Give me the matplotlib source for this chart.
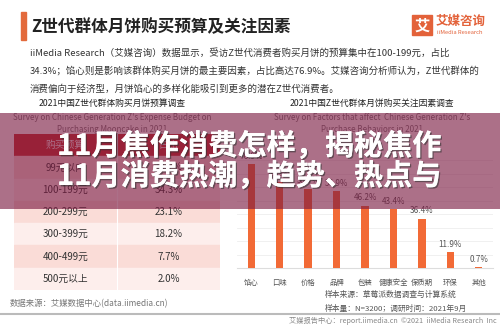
import numpy as np
import matplotlib.pyplot as plt
import matplotlib.patheffects as pe

plt.rcParams['font.family'] = ['Noto Sans CJK SC', 'DejaVu Sans']

# left table data
budget_ranges = ['99元以内', '100-199元', '200-299元', '300-399元', '400-499元', '500元以上']
budget_share = [14.7, 34.3, 23.1, 18.2, 7.7, 2.0]

# right bar chart data
factors = ['馅心', '口味', '价格', '品牌', '包装', '健康安全', '保质期', '环保', '其他']
factor_share = [76.9, 63.9, 58.7, 56.9, 46.2, 43.4, 36.4, 11.9, 0.7]

W, H = 500, 325
fig = plt.figure(figsize=(5, 3.25), dpi=100)
fig.patch.set_facecolor('white')

def px_axes(x0, y0, x1, y1, **kw):
    # axes given in pixel box (top-left origin)
    return fig.add_axes([x0 / W, 1 - y1 / H, (x1 - x0) / W, (y1 - y0) / H], **kw)

bg = px_axes(0, 0, W, H)
bg.set_xlim(0, W)
bg.set_ylim(H, 0)
bg.axis('off')

# header
bg.add_patch(plt.Rectangle((21, 12), 5, 28, color='#e36a3c'))
bg.text(31, 27, 'Z世代群体月饼购买预算及关注因素', fontsize=12, fontweight='bold',
        color='#222222', va='center')
bg.add_patch(plt.Rectangle((412, 15), 20, 20, color='#e3623a'))
bg.text(422, 25.5, '艾', fontsize=11, fontweight='bold', color='white', ha='center', va='center')
bg.text(436, 21, '艾媒咨询', fontsize=9, fontweight='bold', color='#e3623a', va='center')
bg.text(437, 32, 'iiMedia Research', fontsize=4.2, color='#e3623a', va='center')

para = ['iiMedia Research（艾媒咨询）数据显示，受访Z世代消费者购买月饼的预算集中在100-199元，占比',
        '34.3%；馅心则是影响该群体购买月饼的最主要因素，占比高达76.9%。艾媒咨询分析师认为，Z世代群体的',
        '消费偏向于经济型，月饼馅心的多样化能吸引到更多的潜在Z世代消费者。']
for i, line in enumerate(para):
    bg.text(30, 53 + i * 18, line, fontsize=6.8, color='#333333', va='center')

# chart titles
bg.text(112, 103, '2021中国Z世代群体购买月饼预算调查', fontsize=6.3, color='#222222',
        ha='center', va='center')
bg.text(112, 117, "Survey on Chinese Generation Z's Expense Budget on", fontsize=5.8,
        color='#777777', ha='center', va='center')
bg.text(112, 130, 'Purchasing Mooncake in 2021', fontsize=5.8, color='#777777',
        ha='center', va='center')
bg.text(372, 103, '2021中国Z世代群体月饼购买关注因素调查', fontsize=6.3, color='#222222',
        ha='center', va='center')
bg.text(372, 117, "Survey on Factors that affect  Chinese Generation Z's", fontsize=5.8,
        color='#777777', ha='center', va='center')
bg.text(372, 130, 'Purchase Behaviors in 2021', fontsize=5.8, color='#777777',
        ha='center', va='center')

# sources / footer
bg.text(10, 304, '数据来源：艾媒数据中心(data.iimedia.cn)', fontsize=6, color='#777777', va='center')
bg.text(325, 295, '样本来源：草莓派数据调查与计算系统', fontsize=5.6, color='#555555', va='center')
bg.text(325, 309, '样本量：N=3200；调研时间：2021年9月', fontsize=5.6, color='#555555', va='center')
bg.axhline(313.5, color='#bbbbbb', lw=1.5)
bg.text(497, 321, '艾媒报告中心：report.iimedia.cn  ©2021  iiMedia Research  Inc', fontsize=5.2,
        color='#888888', ha='right', va='center')

# table
tab = px_axes(14, 134, 220, 290)
n = len(budget_ranges)
tab.set_xlim(0, 2)
tab.set_ylim(n + 1, 0)
tab.axis('off')
tab.axhspan(0, 1, color='#c9302c')
tab.text(0.5, 0.5, '购买预算', color='white', fontsize=7, ha='center', va='center')
tab.text(1.5, 0.5, '占比', color='white', fontsize=7, ha='center', va='center')
for i, (r, v) in enumerate(zip(budget_ranges, budget_share)):
    c = '#fadcd7' if i % 2 == 0 else '#fdeeec'
    tab.axhspan(i + 1, i + 2, color=c)
    tab.text(0.5, i + 1.5, r, fontsize=7, color='#333333', ha='center', va='center')
    tab.text(1.5, i + 1.5, f'{v:.1f}%', fontsize=7, color='#333333', ha='center', va='center')
tab.axvline(1, color='white', lw=0.8)

# bar chart
ax = px_axes(237, 146.5, 493, 268)
x = np.arange(len(factors))
ax.bar(x, factor_share, width=0.26, color='#f26a36', zorder=3)
ax.set_xlim(-0.5, len(factors) - 0.5)
ax.set_ylim(0, 90)
for g in range(10, 90, 10):
    ax.axhline(g, color='#eeeeee', lw=0.6, zorder=1)
for xi, v in zip(x, factor_share):
    ax.text(xi, v + 2.5, f'{v}%', fontsize=5.8, color='#555555', ha='center', va='bottom')
ax.set_xticks(x)
ax.set_xticklabels(factors, fontsize=5.3, color='#555555')
ax.tick_params(length=0, pad=8)
ax.set_yticks([])
for s in ax.spines.values():
    s.set_visible(False)
ax.spines['bottom'].set_visible(True)
ax.spines['bottom'].set_color('#dddddd')

# overlay band with headline
ov = px_axes(0, 0, W, H)
ov.set_xlim(0, W)
ov.set_ylim(H, 0)
ov.axis('off')
ov.axhspan(113, 209, color='#7a1840', alpha=0.62, lw=0)
shadow = [pe.withSimplePatchShadow(offset=(1, -1), shadow_rgbFace='#333333', alpha=0.6), pe.Normal()]
ov.text(57, 146, '11月焦作消费怎样，揭秘焦作', fontsize=21, fontweight='bold', color='white',
        va='center', path_effects=shadow)
ov.text(57, 176, '11月消费热潮，趋势、热点与', fontsize=21, fontweight='bold', color='white',
        va='center', path_effects=shadow)

fig.savefig('out.png', dpi=100, facecolor='white')
